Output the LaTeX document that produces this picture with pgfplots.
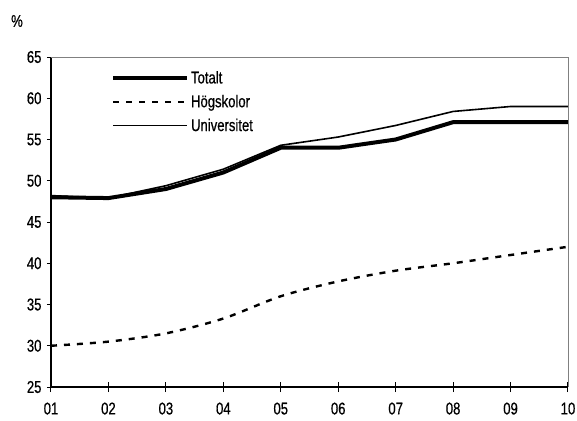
\documentclass[border=0pt]{standalone}
\usepackage{fontspec}
\setmainfont{Liberation Sans}[FakeStretch=0.77, FakeBold=0.6]
\usepackage{pgfplots}
\pgfplotsset{compat=1.18}

\begin{document}
\begin{tikzpicture}
\begin{axis}[
    scale only axis,
    width=517pt, height=330pt,
    at={(0,0)}, anchor=south west,
    xmin=1, xmax=10, ymin=25, ymax=65,
    xtick={1,...,10},
    xticklabels={01,02,03,04,05,06,07,08,09,10},
    ytick={25,30,...,65},
    axis x line*=bottom, axis y line*=left,
    axis line style={line width=1.3pt, -},
    major tick length=4pt,
    x tick style={draw=none},
    y tick style={line width=0.6pt, black},
    tick align=outside,
    tick label style={font=\fontsize{17}{19}\selectfont},
    /pgf/number format/assume math mode=true,
    xticklabel style={yshift=-8pt},
    yticklabel style={xshift=-2pt},
    legend style={at={(0.11,0.97)}, anchor=north west, draw=none, fill=none,
        font=\fontsize{17}{19}\selectfont, row sep=6pt,
        /tikz/every even column/.append style={column sep=0pt}},
    legend cell align=left,
    legend image code/.code={\draw[#1] (0pt,0pt) -- (74pt,0pt);},
    after end axis/.code={
        \draw[gray, line width=0.6pt] (rel axis cs:0,1) -- (rel axis cs:1,1) -- (rel axis cs:1,0);
        \foreach \i in {0,...,9} {
            \draw[black, line width=1pt] ([yshift=-5pt]rel axis cs:\i/9,0) -- ++(0,10pt);
        }
        \node[font=\fontsize{17}{19}\selectfont] at ([xshift=-34pt, yshift=36pt]rel axis cs:0,1) {\%};
    },
]
\addplot[black, line width=4pt, sharp plot] coordinates {
(1,48.0) (2,47.9) (3,49.0) (4,51.0) (5,54.0) (6,54.0) (7,55.0) (8,57.1) (9,57.1) (10,57.1)};
\addlegendentry{Totalt}
\addplot[black, line width=2.4pt, dash pattern=on 6pt off 7pt, smooth] coordinates {
(1,30.0) (2,30.5) (3,31.5) (4,33.3) (5,36.0) (6,37.8) (7,39.1) (8,40.0) (9,41.0) (10,42.0)};
\addlegendentry{Högskolor}
\addplot[black, line width=1.6pt, sharp plot] coordinates {
(1,48.2) (2,47.9) (3,49.4) (4,51.4) (5,54.3) (6,55.3) (7,56.7) (8,58.4) (9,59.0) (10,59.0)};
\addlegendentry{Universitet}
\end{axis}
\pgfresetboundingbox
\path (-51pt,-33pt) rectangle (526pt,387pt);
\end{tikzpicture}
\end{document}
